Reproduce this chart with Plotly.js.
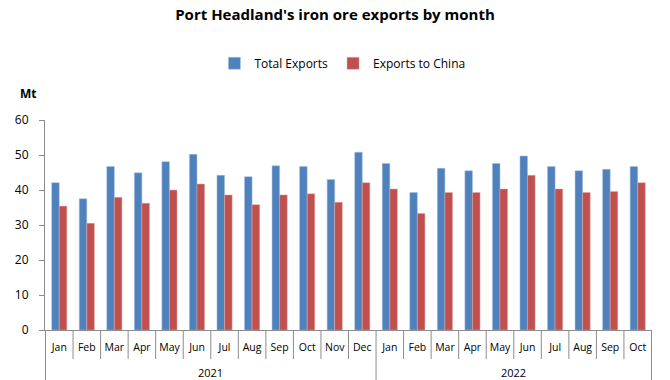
<!DOCTYPE html>
<html><head><meta charset="utf-8">
<script src="https://cdn.plot.ly/plotly-3.0.1.min.js"></script>
<style>body{margin:0;background:#fff}#c{width:670px;height:380px}</style>
</head><body><div id="c"></div>
<script>
const years = ["2021","2021","2021","2021","2021","2021","2021","2021","2021","2021","2021","2021",
               "2022","2022","2022","2022","2022","2022","2022","2022","2022","2022"];
const months = ["Jan","Feb","Mar","Apr","May","Jun","Jul","Aug","Sep","Oct","Nov","Dec",
                "Jan","Feb","Mar","Apr","May","Jun","Jul","Aug","Sep","Oct"];
const totalExports = [42.1,37.5,46.7,44.9,48.1,50.2,44.2,43.8,46.9,46.7,43.0,50.8,
                      47.6,39.3,46.2,45.5,47.6,49.7,46.7,45.5,45.9,46.7];
const chinaExports = [35.4,30.5,37.9,36.2,40.0,41.7,38.6,35.8,38.6,38.9,36.5,42.1,
                      40.3,33.3,39.3,39.3,40.3,44.2,40.3,39.3,39.6,42.1];

const font = "Open Sans, Noto Sans, DejaVu Sans, sans-serif";
const keys = months.map((m, i) => years[i] + "-" + m);
const plotH = 210;

const data = [
  {type:"bar", name:"Total Exports", x:keys, y:totalExports,
   marker:{color:"#4F81BD", line:{color:"#A8C0E0", width:0.5}}},
  {type:"bar", name:"Exports to China", x:keys, y:chinaExports,
   marker:{color:"#C0504D", line:{color:"#E0A8A6", width:0.5}}}
];

// category separators and year dividers
const shapes = [];
const annotations = [];
for (let i = 0; i <= months.length; i++) {
  const isYearEdge = i === 0 || i === months.length || years[i] !== years[i - 1];
  shapes.push({type:"line", xref:"x", yref:"paper", x0:i - 0.5, x1:i - 0.5,
               y0:0, y1:-(isYearEdge ? 52 : 29) / plotH,
               line:{color:"#8c8c8c", width:1}});
}
let start = 0;
for (let i = 1; i <= years.length; i++) {
  if (i === years.length || years[i] !== years[start]) {
    annotations.push({text:years[start], xref:"x", yref:"paper", x:(start + i - 1) / 2,
                      y:-42 / plotH, yanchor:"middle", xanchor:"center", showarrow:false,
                      font:{family:font, size:11}});
    start = i;
  }
}
annotations.push({text:"<b>Mt</b>", xref:"paper", yref:"paper", x:-0.027, y:1 + 27 / plotH,
                  xanchor:"center", yanchor:"middle", showarrow:false,
                  font:{family:font, size:12}});

const layout = {
  width:670, height:380,
  margin:{l:45, r:18, t:120, b:50},
  paper_bgcolor:"#fff", plot_bgcolor:"#fff",
  font:{family:font, size:11, color:"#000"},
  title:{text:"<b>Port Headland's iron ore exports by month</b>", x:0.5, xanchor:"center",
         y:0.96, yanchor:"middle", font:{family:font, size:15, color:"#000"}},
  barmode:"group", bargap:0.45, bargroupgap:0,
  showlegend:true,
  legend:{orientation:"h", x:0.49, xanchor:"center", y:1.27, yanchor:"middle",
          font:{family:font, size:12}, traceorder:"normal"},
  xaxis:{type:"category", showline:true, linecolor:"#8c8c8c", linewidth:1,
         ticks:"", tickangle:0, automargin:false, ticklabelstandoff:7,
         tickvals:keys, ticktext:months,
         tickfont:{family:font, size:10.5}, showgrid:false},
  yaxis:{range:[0,60], dtick:10, showline:true, linecolor:"#8c8c8c", linewidth:1,
         ticks:"outside", ticklen:5, tickcolor:"#8c8c8c", showgrid:false, zeroline:false,
         ticklabelstandoff:8, automargin:false,
         tickfont:{family:font, size:12}},
  shapes:shapes,
  annotations:annotations
};
Plotly.newPlot("c", data, layout, {displayModeBar:false, staticPlot:true});
</script></body></html>
